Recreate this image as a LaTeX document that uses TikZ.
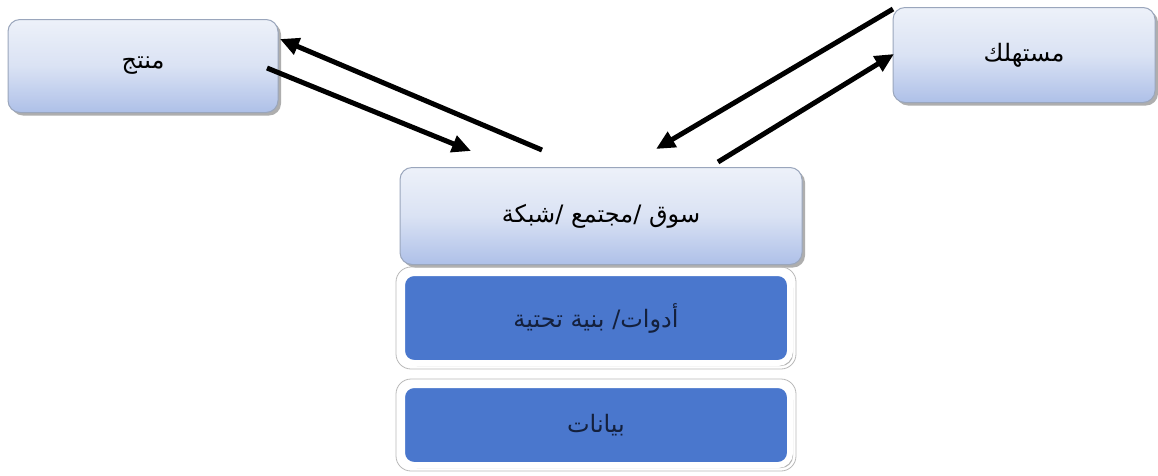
\documentclass[tikz,border=0pt]{standalone}
\usepackage{fontspec}
\newfontfamily\arabicfont[Script=Arabic]{DejaVu Sans}
\TeXXeTstate=1
\usetikzlibrary{arrows.meta,shadows,calc}
\definecolor{lightA}{HTML}{EDF1F9}
\definecolor{lightB}{HTML}{AEC0E8}
\definecolor{boxedge}{HTML}{9AA6BC}
\definecolor{deepblue}{HTML}{4A77CD}
\definecolor{navytext}{HTML}{14203C}
\tikzset{
  lightbox/.style={rounded corners=12pt, draw=boxedge, line width=1pt,
    shading=axis, top color=lightA, bottom color=lightB, middle color=lightA!70!lightB, shading angle=0,
    drop shadow={shadow xshift=3pt, shadow yshift=-3pt, fill=gray!70, opacity=0.9},
    font=\arabicfont\fontsize{24}{28}\selectfont, text=black},
  bluebox/.style={rounded corners=12pt, draw=white, line width=6pt, fill=deepblue,
    drop shadow={shadow xshift=3pt, shadow yshift=-3pt, fill=gray!65, opacity=0.9},
    font=\arabicfont\fontsize{24}{28}\selectfont, text=navytext},
  ring/.style={draw=gray!55, line width=0.8pt, rounded corners=15pt},
  flow/.style={line width=5pt, -{Triangle[length=19pt,width=17pt]}, black}
}
\begin{document}
\begin{tikzpicture}[x=1pt,y=-1pt]
\useasboundingbox (0,0) rectangle (1158,475);
\fill[white] (0,0) rectangle (1158,475);
\node[lightbox, minimum width=270pt, minimum height=93pt] (prod) at (143,66) {\beginR منتج\endR};
\node[lightbox, minimum width=262pt, minimum height=95pt] (cons) at (1024,55) {\beginR مستهلك\endR};
\node[lightbox, minimum width=402pt, minimum height=97pt] (market) at (601,216) {\beginR سوق /مجتمع /شبكة\endR};
\node[bluebox, minimum width=388pt, minimum height=90pt] (tools) at (596,318) {\beginR أدوات/ بنية تحتية\endR};
\node[bluebox, minimum width=388pt, minimum height=80pt] (data) at (596,425) {\beginR بيانات\endR};
\draw[ring] ($(tools.south west)+(-3,3)$) rectangle ($(tools.north east)+(3,-3)$);
\draw[ring] ($(data.south west)+(-3,3)$) rectangle ($(data.north east)+(3,-3)$);
\coordinate (p1s) at (542,150);
\coordinate (p1e) at (280,39);
\coordinate (p2s) at (267,68);
\coordinate (p2e) at (471,151);
\coordinate (c1s) at (893,9);
\coordinate (c1e) at (656,149);
\coordinate (c2s) at (718,162);
\coordinate (c2e) at (894,54);
\draw[flow] (p1s) -- (p1e);
\draw[flow] (p2s) -- (p2e);
\draw[flow] (c1s) -- (c1e);
\draw[flow] (c2s) -- (c2e);
\end{tikzpicture}
\end{document}
